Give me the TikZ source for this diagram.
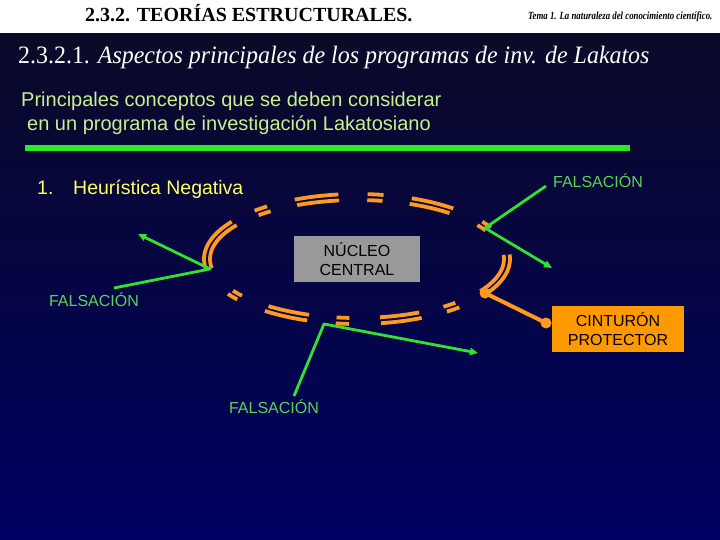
\documentclass[tikz,border=0pt]{standalone}
\usepackage{fontspec}
\setmainfont{Liberation Serif}
\setsansfont{Liberation Sans}
\usetikzlibrary{arrows.meta}
\definecolor{bgtop}{RGB}{10,10,40}
\definecolor{bgbot}{RGB}{0,0,98}
\definecolor{barg}{RGB}{40,235,40}
\definecolor{lineg}{RGB}{50,225,50}
\definecolor{falg}{RGB}{90,210,90}
\definecolor{subg}{RGB}{200,240,140}
\definecolor{yel}{RGB}{255,255,100}
\definecolor{orng}{RGB}{255,153,34}
\definecolor{boxor}{RGB}{255,153,0}
\definecolor{boxgr}{RGB}{153,153,153}
\newcommand\ovaldash[2]{%
  \draw[obar] plot[domain=#1:#2,samples=16,smooth] ({357+153*cos(\x)},{259+65*sin(\x)});
  \draw[obar] plot[domain=#1:#2,samples=16,smooth] ({357+147*cos(\x)},{259+59*sin(\x)});
}
\begin{document}
\begin{tikzpicture}[x=1pt,y=-1pt,
  fal/.style={font=\sffamily\fontsize{16}{16}\selectfont, text=falg, inner sep=0pt},
  gline/.style={draw=lineg, line width=2.8pt, line join=round},
  garrow/.style={gline, -{Triangle[length=8pt,width=7pt]}},
  obar/.style={draw=orng, line width=3.8pt},
  oline/.style={draw=orng, line width=4pt},
  boxtext/.style={font=\sffamily\fontsize{16}{19}\selectfont, text=black, align=center, inner sep=0pt, minimum height=46pt}
]
\useasboundingbox (0,0) rectangle (720,540);
\fill[white] (0,0) rectangle (720,34);
\shade[top color=bgtop, bottom color=bgbot] (0,34) rectangle (720,540);

% header
\node[anchor=base west, inner sep=0pt, font=\bfseries\fontsize{20}{20}\selectfont] (hdr) at (85,22) {2.3.2. TEORÍAS ESTRUCTURALES.};
\node[anchor=base west, inner sep=0pt, xscale=0.8, font=\bfseries\itshape\fontsize{11}{11}\selectfont] (tema) at (528,20) {Tema 1. La naturaleza del conocimiento científico.};

% title
\node[anchor=base west, inner sep=0pt, xscale=0.957, text=white, font=\fontsize{25}{25}\selectfont] (title) at (18,64) {2.3.2.1. \textit{Aspectos principales de los programas de inv. de Lakatos}};

% subtitle
\node[anchor=base west, inner sep=0pt, text=subg, font=\sffamily\fontsize{20}{20}\selectfont] (sub1) at (21,107) {Principales conceptos que se deben considerar};
\node[anchor=base west, inner sep=0pt, text=subg, font=\sffamily\fontsize{20}{20}\selectfont] (sub2) at (27,131) {en un programa de investigación Lakatosiano};

\coordinate (barL) at (25,148);
\coordinate (barR) at (630,148);
\draw[barg, line width=5.5pt] (barL) -- (barR);

% heuristica
\node[anchor=base west, inner sep=0pt, text=yel, font=\sffamily\fontsize{19.5}{19.5}\selectfont] (h1) at (37,195) {1.};
\node[anchor=base west, inner sep=0pt, text=yel, font=\sffamily\fontsize{19.5}{19.5}\selectfont] (h2) at (73,195) {Heurística Negativa};

% oval of dashes
\ovaldash{-86}{-80}
\ovaldash{-69}{-51}
\ovaldash{-35}{-29}
\ovaldash{-4}{33}
\ovaldash{48}{54}
\ovaldash{65}{81}
\ovaldash{93}{98}
\ovaldash{109}{127}
\ovaldash{141.5}{147.5}
\ovaldash{171}{215}
\ovaldash{-132}{-126}
\ovaldash{-114}{-97}

% boxes
\node[boxtext, fill=boxgr, minimum width=126pt] (nucleo) at (357,259) {NÚCLEO\\CENTRAL};
\node[boxtext, fill=boxor, minimum width=132pt] (cint) at (618,329) {CINTURÓN\\PROTECTOR};

% orange connector
\coordinate (cv) at (485,293);
\coordinate (ce) at (546,323);
\draw[oline] (cv) -- (ce);
\fill[orng] (cv) circle (5.5);
\fill[orng] (ce) circle (5.5);

% falsacion labels
\node[fal] (f1) at (598,181) {FALSACIÓN};
\node[fal] (f2) at (94,300) {FALSACIÓN};
\node[fal] (f3) at (274,407) {FALSACIÓN};

% green connectors
\coordinate (s1) at (546,186);
\coordinate (v1) at (485,228);
\coordinate (t1) at (552,268);
\draw[garrow] (s1) -- (v1) -- (t1);
\coordinate (s2) at (114,288);
\coordinate (v2) at (210,269);
\coordinate (t2) at (138,234);
\draw[garrow] (s2) -- (v2) -- (t2);
\coordinate (s3) at (294,396);
\coordinate (v3) at (324,324);
\coordinate (t3) at (478,353);
\draw[garrow] (s3) -- (v3) -- (t3);
\end{tikzpicture}
\end{document}
